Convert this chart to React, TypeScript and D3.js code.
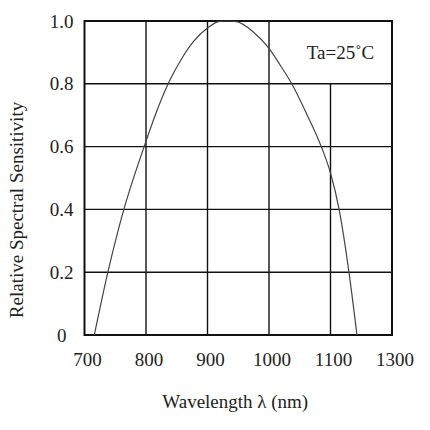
import React, { useEffect, useRef } from 'react';
import * as d3 from 'd3';

// curve
const wavelength = [716, 738, 764, 797, 815, 836, 855, 877, 901, 918, 932, 947, 974, 1000, 1018, 1037, 1061, 1086, 1100, 1114, 1130, 1143];
const sensitivity = [0, 0.2, 0.4, 0.6, 0.7, 0.8, 0.87, 0.934, 0.979, 0.998, 1.0, 0.998, 0.966, 0.913, 0.86, 0.8, 0.705, 0.595, 0.516, 0.4, 0.2, 0];

const xTicks = [700, 800, 900, 1000, 1100, 1200];
const xTickLabels = ['700', '800', '900', '1000', '1100', '1300'];
const yTicks = [0, 0.2, 0.4, 0.6, 0.8, 1.0];
const yTickLabels = ['0', '0.2', '0.4', '0.6', '0.8', '1.0'];

const App = () => {
  const ref = useRef<SVGSVGElement>(null);

  useEffect(() => {
    const margin = { top: 21, right: 38, bottom: 95, left: 84.5 };
    const width = 430 - margin.left - margin.right;
    const height = 430 - margin.top - margin.bottom;
    const font = '"Liberation Serif", "Times New Roman", serif';

    const root = d3.select(ref.current);
    root.selectAll('*').remove();

    const svg = root.append('g')
      .attr('transform', `translate(${margin.left},${margin.top})`);

    const x = d3.scaleLinear().domain([700, 1200]).range([0, width]);
    const y = d3.scaleLinear().domain([0, 1]).range([height, 0]);

    // horizontal grid
    svg.append('g')
      .selectAll('line')
      .data(yTicks.slice(1, -1))
      .enter().append('line')
      .attr('x1', 0).attr('x2', width)
      .attr('y1', d => y(d)).attr('y2', d => y(d))
      .attr('stroke', '#111').attr('stroke-width', 1.4);

    // vertical grid, the 1100 line stops under the Ta box
    svg.append('g')
      .selectAll('line')
      .data(xTicks.slice(1, -1))
      .enter().append('line')
      .attr('x1', d => x(d)).attr('x2', d => x(d))
      .attr('y1', d => (d === 1100 ? y(0.8) : 0)).attr('y2', height)
      .attr('stroke', '#111').attr('stroke-width', 1.4);

    // frame
    svg.append('rect')
      .attr('x', 0).attr('y', 0)
      .attr('width', width).attr('height', height)
      .attr('fill', 'none')
      .attr('stroke', '#111').attr('stroke-width', 2);

    // the curve
    const pts: [number, number][] = wavelength.map((w, i) => [w, sensitivity[i]]);
    const line = d3.line<[number, number]>()
      .x(d => x(d[0]))
      .y(d => y(d[1]))
      .curve(d3.curveMonotoneX);
    svg.append('path')
      .datum(pts)
      .attr('d', line)
      .attr('fill', 'none')
      .attr('stroke', '#444')
      .attr('stroke-width', 1.2);

    // y tick labels
    svg.append('g')
      .selectAll('text')
      .data(yTicks)
      .enter().append('text')
      .attr('x', (d, i) => (i === 0 ? -18 : -11))
      .attr('y', d => y(d))
      .attr('dy', '0.35em')
      .attr('text-anchor', 'end')
      .style('font-family', font)
      .style('font-size', '19px')
      .attr('fill', '#222')
      .text((d, i) => yTickLabels[i]);

    // x tick labels
    svg.append('g')
      .selectAll('text')
      .data(xTicks)
      .enter().append('text')
      .attr('x', d => x(d) + 3)
      .attr('y', height + 31)
      .attr('text-anchor', 'middle')
      .style('font-family', font)
      .style('font-size', '19px')
      .attr('fill', '#222')
      .text((d, i) => xTickLabels[i]);

    // Ta label
    svg.append('text')
      .attr('x', x(1100) + 10)
      .attr('y', y(0.9) + 7)
      .attr('text-anchor', 'middle')
      .style('font-family', font)
      .style('font-size', '19px')
      .attr('fill', '#222')
      .text('Ta=25˚C');

    // axis titles
    svg.append('text')
      .attr('x', x(950) - 3)
      .attr('y', height + 73)
      .attr('text-anchor', 'middle')
      .style('font-family', font)
      .style('font-size', '19px')
      .attr('fill', '#222')
      .text('Wavelength λ (nm)');

    svg.append('text')
      .attr('transform', `translate(${23 - margin.left},${210 - margin.top}) rotate(-90)`)
      .attr('text-anchor', 'middle')
      .style('font-family', font)
      .style('font-size', '19px')
      .attr('fill', '#222')
      .text('Relative Spectral Sensitivity');
  }, []);

  return (
    <svg ref={ref} width={430} height={430}
      style={{ position: 'absolute', left: 0, top: 0, background: '#fff' }} />
  );
};

export default App;
